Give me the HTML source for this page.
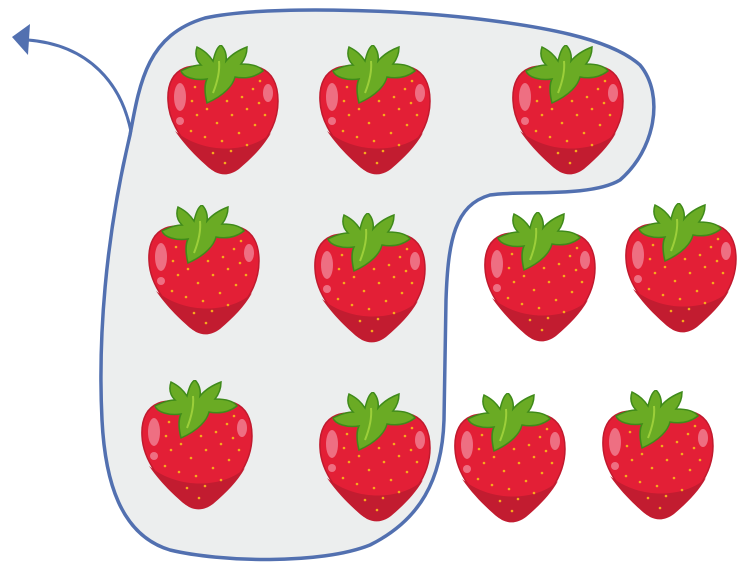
<!DOCTYPE html>
<html><head><meta charset="utf-8"><style>
html,body{margin:0;padding:0;background:#fff;width:749px;height:579px;overflow:hidden}
</style></head><body>
<svg width="749" height="579" viewBox="0 0 749 579">
<defs>
<symbol id="berry" viewBox="0 0 112 132" width="112" height="132">
<path d="M56,28 C28,14 -1,20 1,56 C2,82 22,104 42,122 C50,129 62,130 70,124 C90,108 111,86 111,56 C111,20 84,14 56,28 Z" fill="#e31f36" stroke="#c01a2e" stroke-width="1.5"/>
<path d="M8,86 C22,106 38,120 48,127 C56,131 64,130 72,124 C86,112 96,102 104,88 C86,106 40,112 8,86 Z" fill="#c21c30"/>
<ellipse cx="13" cy="52" rx="6" ry="14" fill="#ee6f82"/>
<circle cx="13" cy="76" r="4" fill="#ee6f82"/>
<ellipse cx="101" cy="48" rx="5" ry="9" fill="#ee6f82"/>
<g fill="#f6a91c">
<circle cx="28" cy="42" r="1.3"/><circle cx="25" cy="56" r="1.3"/><circle cx="40" cy="64" r="1.3"/><circle cx="30" cy="70" r="1.3"/>
<circle cx="50" cy="78" r="1.3"/><circle cx="65" cy="70" r="1.3"/><circle cx="80" cy="64" r="1.3"/><circle cx="92" cy="58" r="1.3"/>
<circle cx="86" cy="44" r="1.3"/><circle cx="93" cy="36" r="1.3"/><circle cx="75" cy="52" r="1.3"/><circle cx="60" cy="56" r="1.3"/>
<circle cx="45" cy="50" r="1.3"/><circle cx="24" cy="86" r="1.3"/><circle cx="38" cy="92" r="1.3"/><circle cx="55" cy="96" r="1.3"/>
<circle cx="72" cy="88" r="1.3"/><circle cx="88" cy="80" r="1.3"/><circle cx="64" cy="106" r="1.3"/><circle cx="46" cy="108" r="1.3"/>
<circle cx="80" cy="100" r="1.3"/><circle cx="98" cy="70" r="1.3"/><circle cx="58" cy="118" r="1.3"/>
</g>
<path d="M40,58 C37,46 38,38 40,34 C28,36 16,32 14,26 C22,22 28,20 34,20 C28,14 28,8 30,2 C38,6 42,10 46,16 C48,8 50,2 54,0 C58,4 60,10 59,16 C64,10 72,5 80,2 C80,8 78,14 74,19 C82,19 92,20 96,26 C88,32 78,34 68,32 C66,40 58,50 40,58 Z" fill="#6aab24" stroke="#3f8a1a" stroke-width="1.5"/>
<path d="M52,16 C53,26 50,38 46,48" stroke="#9ccf3a" stroke-width="2" fill="none"/>
</symbol>
</defs>
<path d="M130,135 C140,80 148,35 205,18 C265,5 400,10 470,18 C540,26 610,38 640,65 C665,95 655,150 620,180 C590,198 520,190 490,195 C455,205 448,240 446,300 L444,420 C442,480 420,520 370,545 C320,565 220,562 170,550 C120,535 105,480 102,420 C98,340 105,240 130,135 Z" fill="#eceeee" stroke="#5270b0" stroke-width="3.5"/>
<path d="M131,132 C122,85 90,45 28,40" fill="none" stroke="#5270b0" stroke-width="3"/>
<polygon points="12,37 30,24 28,55" fill="#5270b0"/>
<g>
<use href="#berry" x="167" y="45"/>
<use href="#berry" x="319" y="45"/>
<use href="#berry" x="512" y="45"/>
<use href="#berry" x="148" y="205"/>
<use href="#berry" x="314" y="213"/>
<use href="#berry" x="484" y="212"/>
<use href="#berry" x="625" y="203"/>
<use href="#berry" x="141" y="380"/>
<use href="#berry" x="319" y="392"/>
<use href="#berry" x="454" y="393"/>
<use href="#berry" x="602" y="390"/>
</g>
</svg>
</body></html>
